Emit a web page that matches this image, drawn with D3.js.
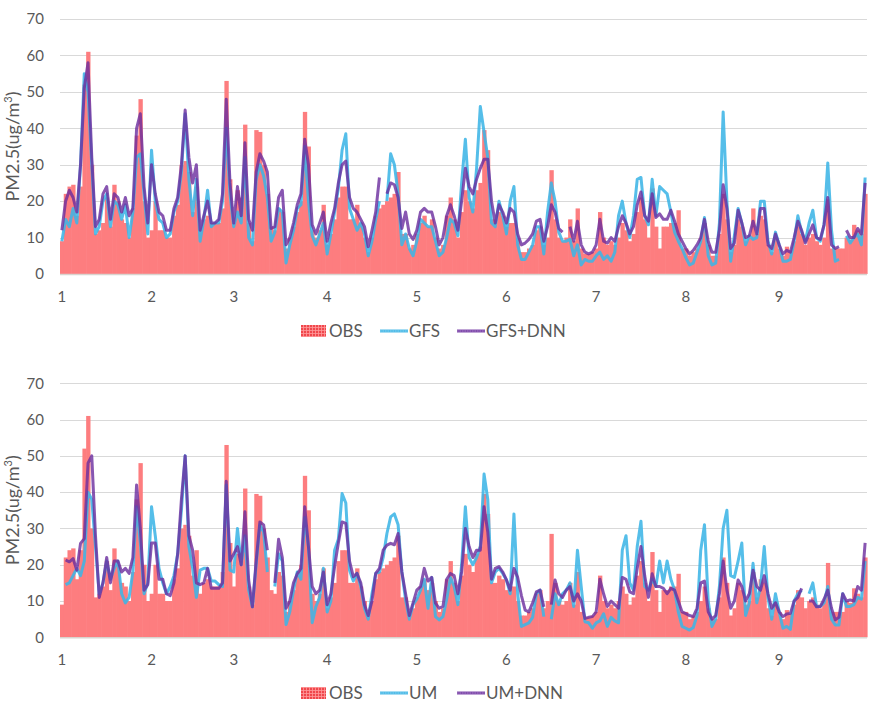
<!DOCTYPE html>
<html><head><meta charset="utf-8">
<script src="https://cdn.jsdelivr.net/npm/d3@7"></script>
<style>
body{margin:0;background:#fff}
text{font-family:Lato,"Open Sans",sans-serif;fill:#595959}
</style>
</head><body>
<svg id="chart" width="873" height="709"></svg>
<script>
const N = 216;
const dayLabels = ['1','2','3','4','5','6','7','8','9'];
const dayTickIdx = [0,24,46,71,95,119,143,167,192];
const yTicks = [0,10,20,30,40,50,60,70];

const obs = [
9,22,24,24.5,16,24,52,61,30,11,12,14,21,13,24.5,20,15,14,10,18,38,48,20,10,
12,20,12,12,10,10,16,19,30,31,28,17,24,12,15,16,14,14,14,18,53,26,14,23,
21,41,14,9,39.5,39,30,22,13,12,18,17,7,10,13,17,20,44.5,35,12,10,12,19,8,
11,15,21,24,24,15,15,19,14,10,6,10,16,18,19,20,21,22,28,11,11,7,8,11,
14,16,13,15,10,7,8,16,21,15,10,17,23,20,18,23,25,39.5,34,15,15,17,16,13,
14,14,10,6,6,7,8,12,13,8,10,28.5,15,10,9,10,15,9,18,7,5.5,5.5,6,7,
17,10,8,9,8,10,14,12,9,11,17,21,15,10,23.5,13,7,13,13,14,14,17.5,7,7,
5,6,7,10,14,8,5,5,11,22,15,6,8,15,13,9,10,18,11,16,15,8,6,10,
7,5,7.5,6.5,9,13,11,8,10,11,9,8,10,20.5,7,7,7,7,10,9.5,13.5,12,11,22];

const gfs = [
9,15,13,18,14,30,55,50,30,11,13,20,22,13,20,19,15,19,10,17,32,33,22,11,
34,20,15,14,10,11,17,20,28,44,26,16,26,9,15,23,13,14,14,20,40,22,13,17,
14,32,10,8,26,30,27,21,9,11.5,18,17,3,8,12,18,19,35,20,10.5,8,11,14,5.5,
11,17,23.5,34,38.5,18,15,12,14,11,5,9,15,20,null,20,33,30,22,8,11,7,5,9,
15,14,13,13,9,5,6,10,15,14,10.5,25,37,21,17,29,46,39,32,14,13,20,16,11,
20,24,8,4,4,6,8,13,13,5.5,17,25,20,11.5,9,9,9.5,5,8,2.5,4,3.5,3.5,5,
6,4,5,3.5,6,16,20,14,10,16,26,26.5,16,13.5,26,16,24,23,22,17,11.5,9,7,4.5,
2.5,3,6,9,15.5,5,2.5,3,14,44.5,20,3.5,10.5,18,14,8,10.5,9.5,10,20,20,9,5.5,11.5,
8,3.5,3.5,4,9,16,11.5,9,14,17.5,10,9,13.5,30.5,12,3.5,4,null,10.5,8.5,10,11,8,26.5];

const gfsDnn = [
12,20,23,21,17,30,51,58,32,13,15,22,24,15,22,21,17,21,16,18,40,44,24,14,
30,22,17,16,12,12,18,21,30,45,32,25,30,12,16,20,14,14,15,22,48,25,14,24,
16,36,15,12,28,33,31,28,12.5,13,21,23,8,10,14,19,22,37,30,13.5,11,14,17,9,
14,18,25,30,31,21,18,17,15,13,7.5,12,17,26.5,null,22,25,24.5,21,12.5,17,11,9.5,12,
17,18,17,17,13,8,10,16,19,16,12,20,29,24,22,26,29,31.5,31.5,20,14,19,17,14,
18,17,11,8,8.5,9.5,11,14.5,15,9,13,19,17,12.5,11.5,null,13,9,14.5,8,6,5.5,6,8,
15,9,8.5,10,9,13,16,14,11,13,19,22.5,16,14.5,22,15.5,16.5,15,15,17.5,14.5,11,9,7,
5.5,6.5,8,10,15,9,6,6,12,24.5,18,7,8.5,17.5,14,10,10.5,14.5,11,18,18,8,7,11,
8,5.5,6.5,6,10,14.5,12,8.5,11,13.5,10,9.5,13.5,21,8,7,7.5,null,12,10,10,12.5,11,25];

const um = [
null,14.5,15,17,19,17,21,40,38,25,12,15,21,16,19,21,12,9.5,11,18,36,26,12,15,
36,28,19,15,12,14,17,23,35,50,25,19,11,18.5,19,19,15.5,15.5,14.5,14,42,18.5,18,30,
20,28,13,8.4,20,31,29,18,null,14,23,21,3.5,7,13,18,16,33,25,4,8.5,11,19,7,
10,24,27,39.6,37,18.5,15.5,17.6,14,8,5,12,17.6,18,22,28.6,33.2,34,31,18,10.3,5,9,10.5,
13,16,8,16.5,5.7,4.8,5.7,10.5,16.5,14,9,20,36,22,20,22,25,45,38,15,18,19,17.6,15.8,
12,34,12,3,3.5,4,5.5,12,13,5.7,null,5,12,9,12,13,15,8.5,24,14,4.3,4,2.5,4,
4.5,6.5,3,5.5,4.5,4,24,28,15,13,25,32,14,13,16,14,21,15,21,16,13,7,3,2.5,
2,2.7,6,24,31,10,3,5,14,30,35,17,16.5,21,26,6,9.5,20.4,9.5,14,25,11,5,12,
7,2.5,3,2.2,10,12,13,null,12,15,8.5,8.5,9.5,14,5,3.4,3.4,12,8.5,8.5,9,11,10.5,21];

const umDnn = [
null,21.3,20.8,21.7,18.5,25.9,27.2,48,50,28,11,15,22,15,21,21,18,19,17.6,22,42,30,13,14.5,
26,26,16,16,12,11.5,15,23,38,50,28,24,15,14.5,15,19,13.5,13.5,13.5,15,43,21,23,25,
20,34.6,15.8,8.4,21,31.8,31,24,null,15,27,22,8,10,15,17.5,19,36,25,14,12,13,18,9,
12,19.5,26,31.8,31.4,21,16.7,17.6,15,9,6,10,17.6,19,24,25.4,25.9,25.5,28.6,18,12,6,9.5,13,
14,19,15.5,16.5,9.4,8,8.5,16,17.6,17,12,18,30,25,22,24,24,36,29,16,19,19.5,18,15.8,
13,19,16.5,11.5,7.5,7,9.5,12.5,13,8.4,null,9,15.8,12,11,13,14,10,12,10,5.2,5.5,5.7,7,
16,12,8.5,10,9,8,16.5,16,12.5,12,19,25,17,11,17.5,14,14,13.5,12,13.5,13,10,7,6.5,
6,5.7,8,15,15.5,7,5,6,12,21,13,8,10,15.8,14,10,12,18.5,14,13,17,12,8,9.5,
7,5.7,6.4,6.6,10,11,13.5,null,10,10,8.4,8.5,10.5,13,8,4.8,5.5,12,10,10.3,10,14,13,26];

const COLORS = {obs:'#FD7D7F', model:'#3DB5E6', dnn:'#6A2C9E', grid:'#D9D9D9'};

const svg = d3.select('#chart');
const defs = svg.append('defs');
const pat = defs.append('pattern').attr('id','obsPat').attr('patternUnits','userSpaceOnUse')
  .attr('width',3).attr('height',3);
pat.append('rect').attr('width',3).attr('height',3).attr('fill','#F0474C');
pat.append('path').attr('d','M0,0.5H3M0.5,0V3').attr('stroke','#FF9A9C').attr('stroke-width',0.8);

const x = d3.scaleBand().domain(d3.range(N)).range([60, 867]).paddingInner(0).paddingOuter(0);
const bw = x.bandwidth();

function drawPanel(cfg) {
  const g = svg.append('g');
  const y = d3.scaleLinear().domain([0,70]).range([cfg.y0, cfg.y70]);

  g.append('g').selectAll('line').data(yTicks).join('line')
    .attr('x1',60).attr('x2',867)
    .attr('y1',d=>Math.round(y(d))+0.5).attr('y2',d=>Math.round(y(d))+0.5)
    .attr('stroke',COLORS.grid).attr('stroke-width',1);

  const ya = g.append('g').attr('transform','translate(44,0)')
    .call(d3.axisLeft(y).tickValues(yTicks).tickSize(0).tickPadding(0));
  ya.select('.domain').remove();
  ya.selectAll('text').attr('font-size',15).style('font-family','Lato, "Open Sans", sans-serif').attr('fill','#595959');

  g.append('g').selectAll('rect').data(obs).join('rect')
    .attr('x',(d,i)=>x(i)).attr('width',bw+0.6)
    .attr('y',d=>y(d)).attr('height',d=>y(0)-y(d))
    .attr('fill',COLORS.obs);

  g.append('line').attr('x1',60).attr('x2',867).attr('y1',y(0)+0.5).attr('y2',y(0)+0.5)
    .attr('stroke','#D9D4CF').attr('stroke-width',1.5);

  const line = d3.line().defined(d=>d!=null).x((d,i)=>x(i)+bw/2).y(d=>y(d));
  g.append('path').datum(cfg.model).attr('d',line).attr('fill','none')
    .attr('stroke',COLORS.model).attr('stroke-width',3).attr('stroke-opacity',0.88)
    .attr('stroke-linejoin','round');
  g.append('path').datum(cfg.dnn).attr('d',line).attr('fill','none')
    .attr('stroke',COLORS.dnn).attr('stroke-width',3).attr('stroke-opacity',0.8)
    .attr('stroke-linejoin','round');

  const xa = g.append('g').attr('transform',`translate(0,${cfg.y0})`)
    .call(d3.axisBottom(x).tickValues(dayTickIdx).tickSize(0).tickPadding(17)
      .tickFormat(i=>dayLabels[dayTickIdx.indexOf(i)]));
  xa.select('.domain').remove();
  xa.selectAll('text').attr('font-size',15).style('font-family','Lato, "Open Sans", sans-serif').attr('fill','#595959');

  const cy = (cfg.y0 + cfg.y70)/2;
  const t = g.append('text').attr('transform',`translate(19,${cy}) rotate(-90)`)
    .attr('text-anchor','middle').attr('font-size',18);
  t.append('tspan').text('PM2.5(ug/m');
  t.append('tspan').attr('dy',-7).attr('font-size',11).text('3');
  t.append('tspan').attr('dy',7).text(')');

  const ly = cfg.legendY;
  const lg = g.append('g');
  lg.append('rect').attr('x',301).attr('y',ly-6).attr('width',25).attr('height',12).attr('fill','url(#obsPat)');
  lg.append('text').attr('x',329).attr('y',ly).attr('dy','0.35em').attr('font-size',17).text('OBS');
  const items = [{x:380,c:COLORS.model,o:0.9,name:cfg.names[0],tx:409},{x:457,c:COLORS.dnn,o:0.85,name:cfg.names[1],tx:486}];
  items.forEach(it=>{
    lg.append('line').attr('x1',it.x).attr('x2',it.x+28).attr('y1',ly).attr('y2',ly)
      .attr('stroke',it.c).attr('stroke-opacity',it.o).attr('stroke-width',3);
    lg.append('line').attr('x1',it.x).attr('x2',it.x+28).attr('y1',ly).attr('y2',ly)
      .attr('stroke','#fff').attr('stroke-opacity',0.35).attr('stroke-width',0.8).attr('stroke-dasharray','1.5,1');
    lg.append('text').attr('x',it.tx).attr('y',ly).attr('dy','0.35em').attr('font-size',17).text(it.name);
  });
}

drawPanel({y0:274, y70:19, model:gfs, dnn:gfsDnn, names:['GFS','GFS+DNN'], legendY:331});
drawPanel({y0:637.3, y70:383.3, model:um, dnn:umDnn, names:['UM','UM+DNN'], legendY:693});
</script>
</body></html>
